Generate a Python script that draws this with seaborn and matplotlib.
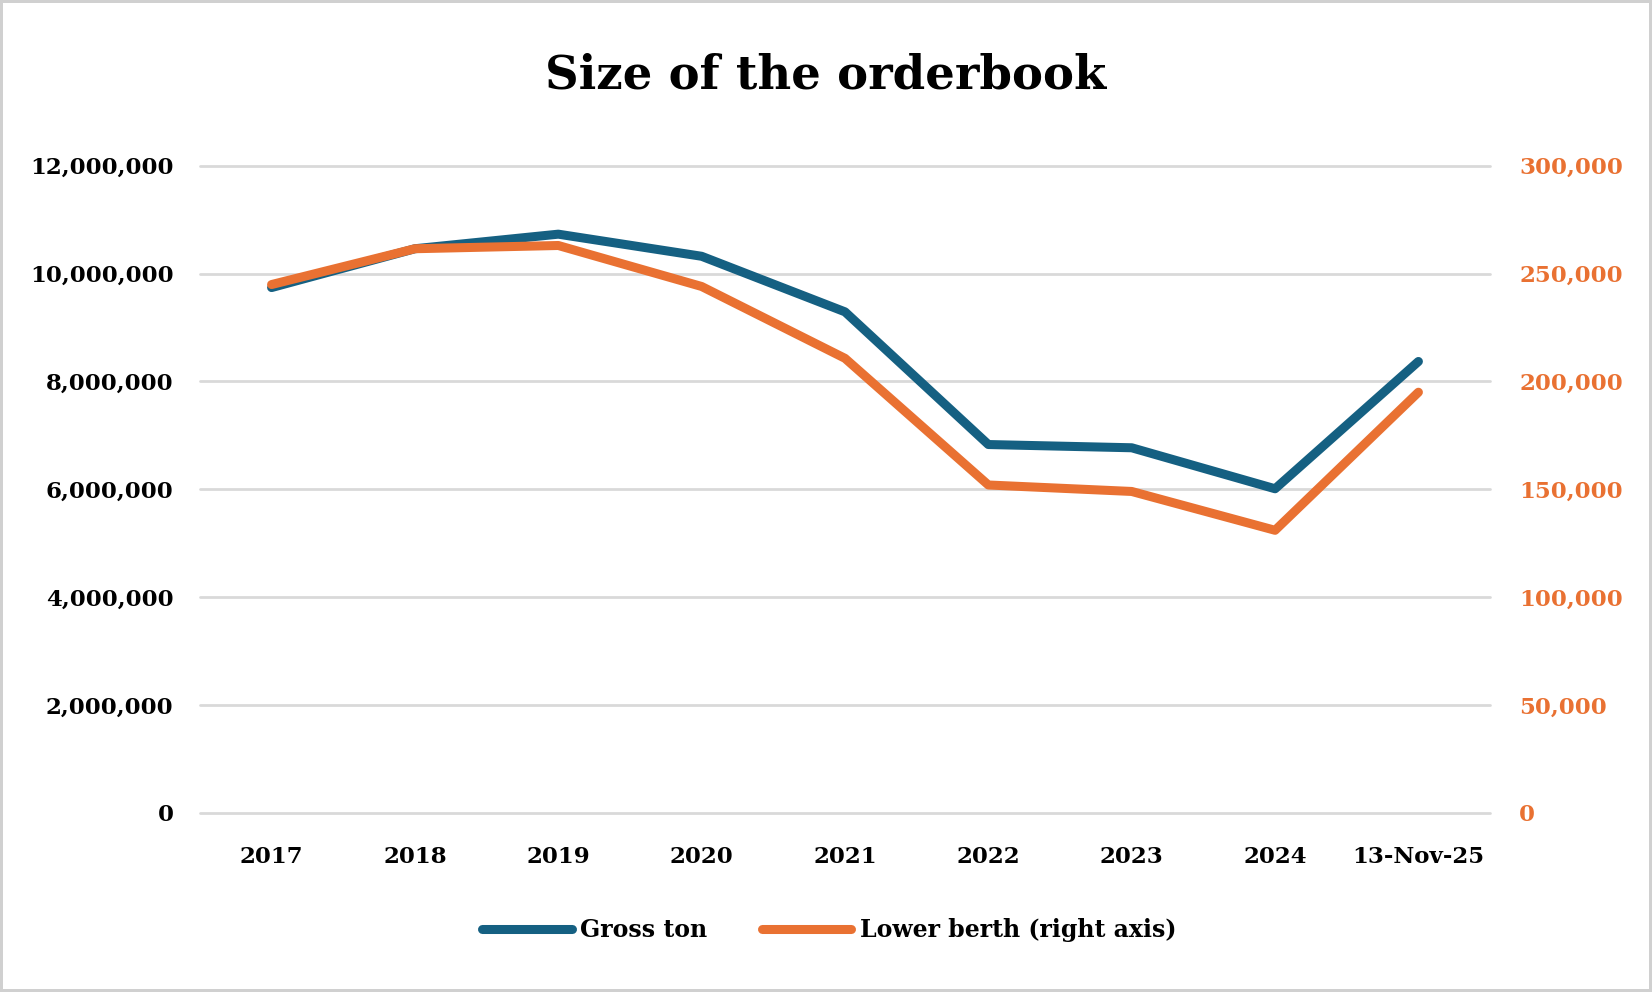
import matplotlib
matplotlib.use("Agg")
import matplotlib.pyplot as plt
import matplotlib.ticker as mticker
import pandas as pd
import seaborn as sns

periods = ["2017", "2018", "2019", "2020", "2021", "2022", "2023", "2024", "13-Nov-25"]
gross_ton = [9740000, 10460000, 10730000, 10320000, 9290000, 6830000, 6770000, 6010000, 8370000]
lower_berth = [244900, 261500, 263000, 244000, 210700, 152000, 149000, 131000, 195000]

BLUE = "#156082"
ORANGE = "#E97132"

sns.set_style("white")
plt.rcParams["font.family"] = ["DejaVu Serif"]
plt.rcParams["font.weight"] = "bold"
plt.rcParams["text.color"] = "black"

df = pd.DataFrame({"period": periods, "gross": gross_ton, "berth": lower_berth})
df["x"] = range(len(df))

fig = plt.figure(figsize=(16.52, 9.92), dpi=100)
fig.patch.set_edgecolor("#d0d0d0")
fig.patch.set_linewidth(3)
ax = fig.add_axes([0.121, 0.1805, 0.781, 0.6525])
ax2 = ax.twinx()

sns.lineplot(data=df, x="x", y="gross", ax=ax, color=BLUE, linewidth=6.5,
             label="Gross ton", legend=False, solid_capstyle="round")
sns.lineplot(data=df, x="x", y="berth", ax=ax2, color=ORANGE, linewidth=6.5,
             label="Lower berth (right axis)", legend=False, solid_capstyle="round")

ax.set_xlim(-0.5, len(periods) - 0.5)
ax.set_ylim(0, 12000000)
ax2.set_ylim(0, 300000)
ax.set_yticks(range(0, 12000001, 2000000))
ax2.set_yticks(range(0, 300001, 50000))
ax.yaxis.set_major_formatter(mticker.StrMethodFormatter("{x:,.0f}"))
ax2.yaxis.set_major_formatter(mticker.StrMethodFormatter("{x:,.0f}"))
ax.set_xticks(df["x"])
ax.set_xticklabels(periods)

ax.grid(axis="y", color="#d9d9d9", linewidth=2)
for gl in ax.get_ygridlines():
    gl.set_clip_on(False)
ax.set_axisbelow(True)
for a in (ax, ax2):
    for s in a.spines.values():
        s.set_visible(False)
    a.set_xlabel("")
    a.set_ylabel("")

ax.tick_params(axis="y", length=0, pad=19, labelsize=16.5, labelcolor="black")
ax.tick_params(axis="x", length=0, pad=24, labelsize=16.5, labelcolor="black")
ax2.tick_params(axis="y", length=0, pad=21, labelsize=16.5, labelcolor=ORANGE)
for lbl in ax.get_xticklabels() + ax.get_yticklabels() + ax2.get_yticklabels():
    lbl.set_fontweight("bold")

fig.suptitle("Size of the orderbook", y=0.924, va="center", fontsize=33.5,
             fontweight="bold", color="black")

h1, l1 = ax.get_legend_handles_labels()
h2, l2 = ax2.get_legend_handles_labels()
fig.legend(h1 + h2, l1 + l2, loc="center", bbox_to_anchor=(0.502, 0.062), ncol=2,
           frameon=False, handlelength=3.8, columnspacing=2.3,
           handletextpad=0.35, prop={"weight": "bold", "size": 17})

fig.savefig("out.png", dpi=100)
